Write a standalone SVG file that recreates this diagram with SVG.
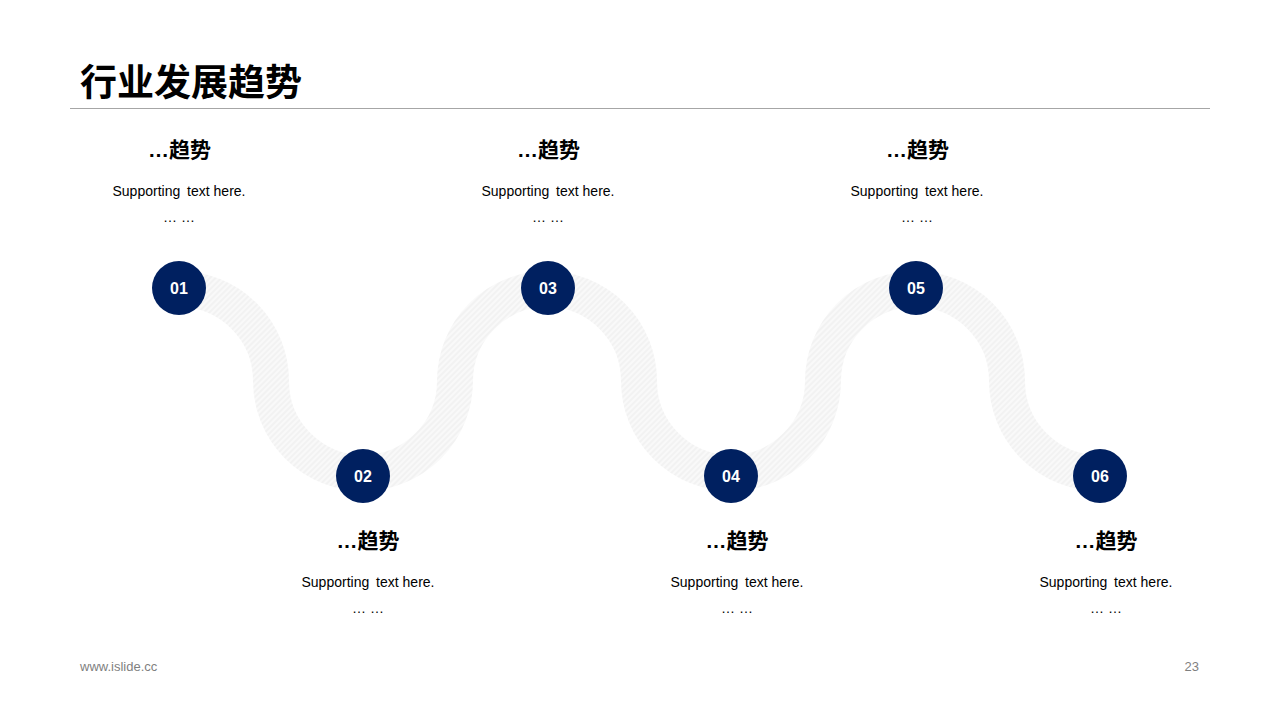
<svg xmlns="http://www.w3.org/2000/svg" width="1280" height="720" viewBox="0 0 1280 720">
  <defs>
    <pattern id="hatch" patternUnits="userSpaceOnUse" width="4" height="4" patternTransform="rotate(45)">
      <rect width="4" height="4" fill="#f9f9f9"/>
      <line x1="1" y1="0" x2="1" y2="4" stroke="#ebebeb" stroke-width="1"/>
    </pattern>
    <style>
      .title { font-family: "Liberation Sans", "Noto Sans CJK SC", sans-serif; font-weight: bold; font-size: 37px; fill: #000; }
      .head { font-family: "Liberation Sans", "Noto Sans CJK SC", sans-serif; font-weight: bold; font-size: 21px; fill: #000; text-anchor: middle; }
      .sub { font-family: "Liberation Sans", Arial, sans-serif; font-size: 14px; fill: #000; text-anchor: middle; }
      .dots { font-family: "Liberation Sans", Arial, sans-serif; font-size: 14px; fill: #000; text-anchor: middle; }
      .num { font-family: "Liberation Sans", Arial, sans-serif; font-weight: bold; font-size: 16px; fill: #fff; text-anchor: middle; }
      .foot { font-family: "Liberation Sans", Arial, sans-serif; font-size: 13px; fill: #7f7f7f; }
      .dot { fill: #002060; }
    </style>
  </defs>
  <rect width="1280" height="720" fill="#fff"/>

  <g id="header">
    <text class="title" x="80" y="96">行业发展趋势</text>
    <line x1="70" y1="108.5" x2="1210" y2="108.5" stroke="#a6a6a6" stroke-width="1"/>
  </g>

  <g id="connectors">
    <path d="M179,289 A92,92 0 0 1 271,381 A92,92 0 0 0 455,381 A92,92 0 0 1 639,381 A92,92 0 0 0 823,381 A92,92 0 0 1 1007,381 A92,92 0 0 0 1099,473" fill="none" stroke="url(#hatch)" stroke-width="36"/>
  </g>

  <g id="node01">
    <circle class="dot" cx="179" cy="288" r="27"/>
    <text class="num" x="179" y="294">01</text>
    <text class="head" x="179.5" y="157">…趋势</text>
    <text class="sub" x="179" y="196">Supporting<tspan dx="3"> text here.</tspan></text>
    <text class="dots" x="179" y="222">… …</text>
  </g>
  <g id="node02">
    <circle class="dot" cx="363" cy="476" r="27"/>
    <text class="num" x="363" y="482">02</text>
    <text class="head" x="368" y="548">…趋势</text>
    <text class="sub" x="368" y="587">Supporting<tspan dx="3"> text here.</tspan></text>
    <text class="dots" x="368" y="613">… …</text>
  </g>
  <g id="node03">
    <circle class="dot" cx="548" cy="288" r="27"/>
    <text class="num" x="548" y="294">03</text>
    <text class="head" x="548.5" y="157">…趋势</text>
    <text class="sub" x="548" y="196">Supporting<tspan dx="3"> text here.</tspan></text>
    <text class="dots" x="548" y="222">… …</text>
  </g>
  <g id="node04">
    <circle class="dot" cx="731" cy="476" r="27"/>
    <text class="num" x="731" y="482">04</text>
    <text class="head" x="737" y="548">…趋势</text>
    <text class="sub" x="737" y="587">Supporting<tspan dx="3"> text here.</tspan></text>
    <text class="dots" x="737" y="613">… …</text>
  </g>
  <g id="node05">
    <circle class="dot" cx="916" cy="288" r="27"/>
    <text class="num" x="916" y="294">05</text>
    <text class="head" x="917.5" y="157">…趋势</text>
    <text class="sub" x="917" y="196">Supporting<tspan dx="3"> text here.</tspan></text>
    <text class="dots" x="917" y="222">… …</text>
  </g>
  <g id="node06">
    <circle class="dot" cx="1100" cy="476" r="27"/>
    <text class="num" x="1100" y="482">06</text>
    <text class="head" x="1106" y="548">…趋势</text>
    <text class="sub" x="1106" y="587">Supporting<tspan dx="3"> text here.</tspan></text>
    <text class="dots" x="1106" y="613">… …</text>
  </g>

  <g id="footer">
    <text class="foot" x="80" y="671">www.islide.cc</text>
    <text class="foot" x="1199" y="671" text-anchor="end">23</text>
  </g>
</svg>
